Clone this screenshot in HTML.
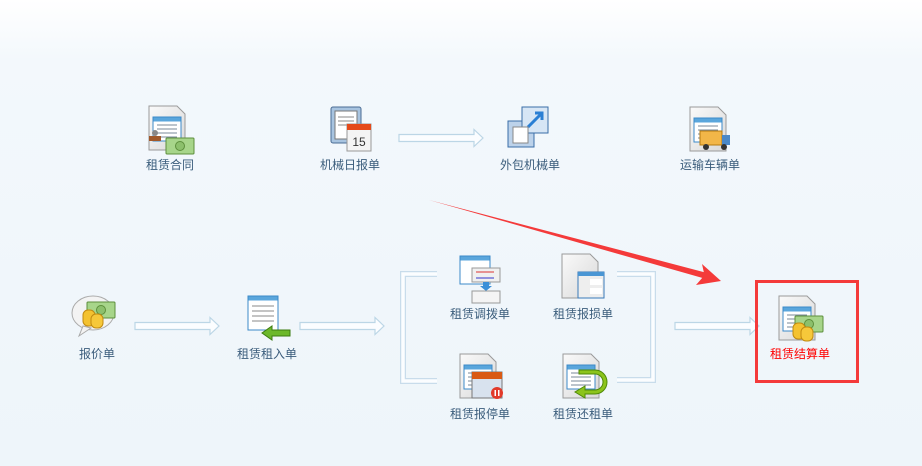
<!DOCTYPE html>
<html><head><meta charset="utf-8"><style>
html,body{margin:0;padding:0}
body{width:922px;height:466px;position:relative;overflow:hidden;background:linear-gradient(#ffffff 0px,#f3f8fc 60px,#eef5fa 466px);font-family:"Liberation Sans","Noto Sans CJK SC",sans-serif}
.l{position:absolute;font-size:12px;color:#3b5d7c;white-space:nowrap;transform:translateX(-50%)}
svg{position:absolute;left:0;top:0}
</style></head><body>
<svg width="922" height="466" viewBox="0 0 922 466">
<defs>
<g id="arr"><path d="M0,-3.5 H75 V-8.5 L84,0 L75,8.5 V3.5 H0 Z" fill="#fbfdff" stroke="#bcd6e6" stroke-width="1.2"/></g>
<linearGradient id="pg" x1="0" y1="0" x2="1" y2="1"><stop offset="0" stop-color="#fafafa"/><stop offset="1" stop-color="#d8d8d8"/></linearGradient>
<g id="doc"><path d="M0,0 H28 L36,8 V44 H0 Z" fill="url(#pg)" stroke="#9a9a9a"/></g>
<g id="form"><rect x="0" y="0" width="28" height="24" fill="#fff" stroke="#3c8ac8"/><rect x="0.5" y="0.5" width="27" height="4" fill="#5aa6dc"/><g stroke="#7a8a9a" stroke-width="1"><line x1="4" y1="8" x2="24" y2="8"/><line x1="4" y1="12" x2="24" y2="12"/><line x1="4" y1="16" x2="24" y2="16"/><line x1="4" y1="20" x2="24" y2="20"/></g></g>
<g id="cash"><rect x="0" y="0" width="28" height="16" rx="1" fill="#a7d58a" stroke="#5d8f3c"/><circle cx="14" cy="8" r="4.5" fill="#8cc06c" stroke="#5d8f3c"/></g>
<g id="coins"><rect x="0" y="0" width="12" height="16" rx="5" fill="#f4c230" stroke="#c18a10"/><rect x="8" y="4" width="12" height="14" rx="5" fill="#f6c83a" stroke="#c18a10"/></g>
</defs>
<!-- arrows -->
<use href="#arr" x="135" y="326"/>
<use href="#arr" x="300" y="326"/>
<use href="#arr" x="399" y="138"/>
<use href="#arr" x="675" y="326"/>
<!-- brackets -->
<path d="M437,274 H403 V381 H437" fill="none" stroke="#c8dceb" stroke-width="6"/>
<path d="M437,274 H403 V381 H437" fill="none" stroke="#fbfdff" stroke-width="3.5"/>
<path d="M617,274 H653 V380 H617" fill="none" stroke="#c8dceb" stroke-width="6"/>
<path d="M617,274 H653 V380 H617" fill="none" stroke="#fbfdff" stroke-width="3.5"/>
<!-- red arrow -->
<polygon points="429,200 703.8,272.1 702,264 721,281 696,285 702.2,277.9" fill="#f43a3a"/>
<rect x="756.5" y="281.5" width="101" height="100" fill="none" stroke="#f43a3a" stroke-width="3"/>

<!-- 租赁合同 -->
<g transform="translate(149,106)"><use href="#doc"/><g transform="translate(4,11)"><use href="#form"/></g><rect x="0" y="30" width="12" height="5" fill="#a0592b"/><circle cx="6" cy="27" r="3" fill="#888"/><g transform="translate(17,32)"><use href="#cash"/></g></g>
<!-- 机械日报单 -->
<g transform="translate(331,107)"><rect x="0" y="0" width="30" height="36" rx="2" fill="#a8c4e0" stroke="#4a6c94"/><rect x="4" y="4" width="22" height="28" fill="#fff" stroke="#777"/><g stroke="#888"><line x1="7" y1="10" x2="23" y2="10"/><line x1="7" y1="14" x2="23" y2="14"/><line x1="7" y1="18" x2="23" y2="18"/></g><rect x="16" y="17" width="24" height="27" fill="#f4f4f4" stroke="#999"/><rect x="16" y="17" width="24" height="6" fill="#e54a1a"/><text x="28" y="39" font-size="12" text-anchor="middle" fill="#333" font-family="Liberation Sans">15</text></g>
<!-- 外包机械单 -->
<g transform="translate(508,107)"><rect x="0" y="14" width="26" height="26" fill="#bcd2ea" stroke="#3a6ea8"/><rect x="14" y="0" width="26" height="26" fill="#d7e6f5" stroke="#3a6ea8"/><path d="M20,20 L34,6 M27,6 H34 V13" stroke="#2a7fd4" stroke-width="3" fill="none"/><rect x="5" y="20" width="15" height="16" fill="#fff" stroke="#888"/></g>
<!-- 运输车辆单 -->
<g transform="translate(690,107)"><use href="#doc"/><g transform="translate(4,11)"><use href="#form"/></g><rect x="10" y="24" width="22" height="14" fill="#f2b648" stroke="#b57a10"/><rect x="32" y="28" width="8" height="10" fill="#4a88c8"/><circle cx="16" cy="40" r="3" fill="#333"/><circle cx="34" cy="40" r="3" fill="#333"/></g>
<!-- 报价单 -->
<g transform="translate(73,296)"><ellipse cx="20" cy="17" rx="21" ry="17" fill="#f3f3f3" stroke="#aaa"/><path d="M10,30 L6,40 L18,32 Z" fill="#f3f3f3" stroke="#aaa"/><g transform="translate(14,6)"><use href="#cash"/></g><g transform="translate(10,14)"><use href="#coins"/></g></g>
<!-- 租赁租入单 -->
<g transform="translate(248,296)"><rect x="0" y="0" width="30" height="34" fill="#fff" stroke="#3c8ac8"/><rect x="0.5" y="0.5" width="29" height="4" fill="#5aa6dc"/><g stroke="#888"><line x1="4" y1="10" x2="26" y2="10"/><line x1="4" y1="15" x2="26" y2="15"/><line x1="4" y1="20" x2="26" y2="20"/><line x1="4" y1="25" x2="26" y2="25"/></g><path d="M42,34 H24 V30 L14,37 L24,44 V40 H42 Z" fill="#6cb82a" stroke="#3d7c10"/></g>
<!-- 调拨 -->
<g transform="translate(460,256)"><rect x="0" y="0" width="30" height="28" fill="#fff" stroke="#3c8ac8"/><rect x="0.5" y="0.5" width="29" height="4" fill="#5aa6dc"/><rect x="12" y="12" width="28" height="14" fill="#f0f0f0" stroke="#999"/><line x1="16" y1="16" x2="34" y2="16" stroke="#d33"/><line x1="16" y1="22" x2="34" y2="22" stroke="#33c"/><path d="M23,26 h6 v4 h3 l-6,5 l-6,-5 h3z" fill="#3a8fd8"/><rect x="12" y="35" width="28" height="12" fill="#f4f4f4" stroke="#999"/></g>
<!-- 报损 -->
<g transform="translate(562,254)"><use href="#doc"/><rect x="16" y="18" width="26" height="26" fill="#eee" stroke="#3a7ab8"/><rect x="16" y="18" width="26" height="4" fill="#4a96d4"/><rect x="28" y="25" width="12" height="6" fill="#fff"/><rect x="28" y="34" width="12" height="6" fill="#fff"/></g>
<!-- 报停 -->
<g transform="translate(460,354)"><use href="#doc"/><g transform="translate(4,11)"><use href="#form"/></g><rect x="12" y="18" width="30" height="26" fill="#d8e2ee" stroke="#777"/><rect x="12" y="18" width="30" height="7" fill="#d95a14"/><circle cx="37" cy="39" r="6" fill="#e23a2a"/><rect x="34.5" y="36" width="1.5" height="6" fill="#fff"/><rect x="38" y="36" width="1.5" height="6" fill="#fff"/></g>
<!-- 还租 -->
<g transform="translate(563,354)"><use href="#doc"/><g transform="translate(4,11)"><use href="#form"/></g><path d="M16,20 H32 A8,8 0 0 1 32,36 H22 V32 L12,38 L22,44 V40 H32 A12,12 0 0 0 32,16 H16 Z" fill="#8cc41c" stroke="#4f8a08"/></g>
<!-- 结算 -->
<g transform="translate(779,296)"><use href="#doc"/><g transform="translate(4,11)"><use href="#form"/></g><g transform="translate(16,20)"><use href="#cash"/></g><g transform="translate(14,27)"><use href="#coins"/></g></g>
</svg>
<div class="l" style="left:170px;top:156px">租赁合同</div>
<div class="l" style="left:350px;top:156px">机械日报单</div>
<div class="l" style="left:530px;top:156px">外包机械单</div>
<div class="l" style="left:710px;top:156px">运输车辆单</div>
<div class="l" style="left:97px;top:345px">报价单</div>
<div class="l" style="left:267px;top:345px">租赁租入单</div>
<div class="l" style="left:480px;top:305px">租赁调拨单</div>
<div class="l" style="left:583px;top:305px">租赁报损单</div>
<div class="l" style="left:480px;top:405px">租赁报停单</div>
<div class="l" style="left:583px;top:405px">租赁还租单</div>
<div class="l" style="left:800px;top:345px;color:#f00">租赁结算单</div>
</body></html>
